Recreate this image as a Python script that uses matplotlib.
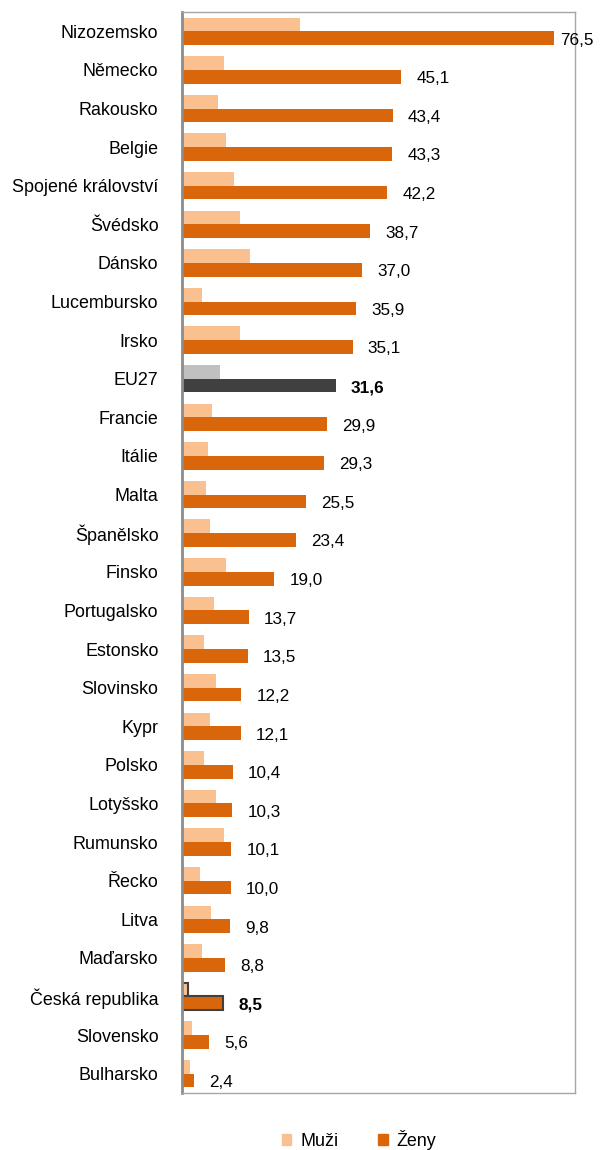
import matplotlib
matplotlib.use("Agg")
import matplotlib.pyplot as plt
import numpy as np
from matplotlib.patches import Patch

plt.rcParams['font.family'] = ['Liberation Sans', 'DejaVu Sans']

countries = ["Nizozemsko", "Německo", "Rakousko", "Belgie", "Spojené království",
             "Švédsko", "Dánsko", "Lucembursko", "Irsko", "EU27", "Francie", "Itálie",
             "Malta", "Španělsko", "Finsko", "Portugalsko", "Estonsko", "Slovinsko",
             "Kypr", "Polsko", "Lotyšsko", "Rumunsko", "Řecko", "Litva", "Maďarsko",
             "Česká republika", "Slovensko", "Bulharsko"]
muzi = [24.3, 8.6, 7.5, 9.1, 10.7, 12.0, 14.1, 4.1, 12.0, 7.8, 6.2, 5.3,
        4.9, 5.8, 9.1, 6.6, 4.5, 7.0, 5.8, 4.5, 7.0, 8.6, 3.7, 6.0, 4.1,
        1.3, 2.1, 1.6]
zeny = [76.5, 45.1, 43.4, 43.3, 42.2, 38.7, 37.0, 35.9, 35.1, 31.6, 29.9, 29.3,
        25.5, 23.4, 19.0, 13.7, 13.5, 12.2, 12.1, 10.4, 10.3, 10.1, 10.0, 9.8, 8.8,
        8.5, 5.6, 2.4]

c_muzi = '#FAC090'
c_zeny = '#D9660A'
fs = 12.3
xmax = 80.9

fig = plt.figure(figsize=(6.01, 11.5), dpi=100)
ax = fig.add_axes([182/601, 1-1093/1150, (575-182)/601, (1093-12)/1150])

y = np.arange(len(countries))
h = 0.355
for i, name in enumerate(countries):
    cm, cz, ec, lw = c_muzi, c_zeny, 'none', 0
    if name == "EU27":
        cm, cz = '#C0C0C0', '#404040'
    if name == "Česká republika":
        ec, lw = '#404040', 1.5
    ax.barh(y[i] - h/2, muzi[i], height=h, color=cm, edgecolor=ec, linewidth=lw)
    ax.barh(y[i] + h/2, zeny[i], height=h, color=cz, edgecolor=ec, linewidth=lw)
    bold = name in ("EU27", "Česká republika")
    off = 5 if zeny[i] > 0.9 * xmax else 11
    ax.annotate(f"{zeny[i]:.1f}".replace('.', ','), (zeny[i], y[i] + h/2 + 0.05),
                xytext=(off, 0), textcoords='offset points', va='center', ha='left',
                fontsize=fs, fontweight='bold' if bold else 'normal')

ax.set_xlim(0, xmax)
ax.set_ylim(len(countries) - 0.5, -0.5)
ax.set_yticks(y)
ax.set_yticklabels(countries, fontsize=12.9)
ax.set_xticks([])
ax.tick_params(axis='y', length=0, pad=17)
for s in ['top', 'right', 'bottom']:
    ax.spines[s].set_color('#A6A6A6')
    ax.spines[s].set_linewidth(1)
ax.spines['left'].set_color('#8C8C8C')
ax.spines['left'].set_linewidth(2)

handles = [Patch(color=c_muzi, label='Muži'), Patch(color=c_zeny, label='Ženy')]
fig.legend(handles=handles, loc='center', bbox_to_anchor=(359/601, 1-1140/1150), ncol=2,
           frameon=False, fontsize=12.9, handlelength=0.55, handleheight=0.55,
           handletextpad=0.5, columnspacing=2.2)

fig.savefig("out.png", dpi=100)
